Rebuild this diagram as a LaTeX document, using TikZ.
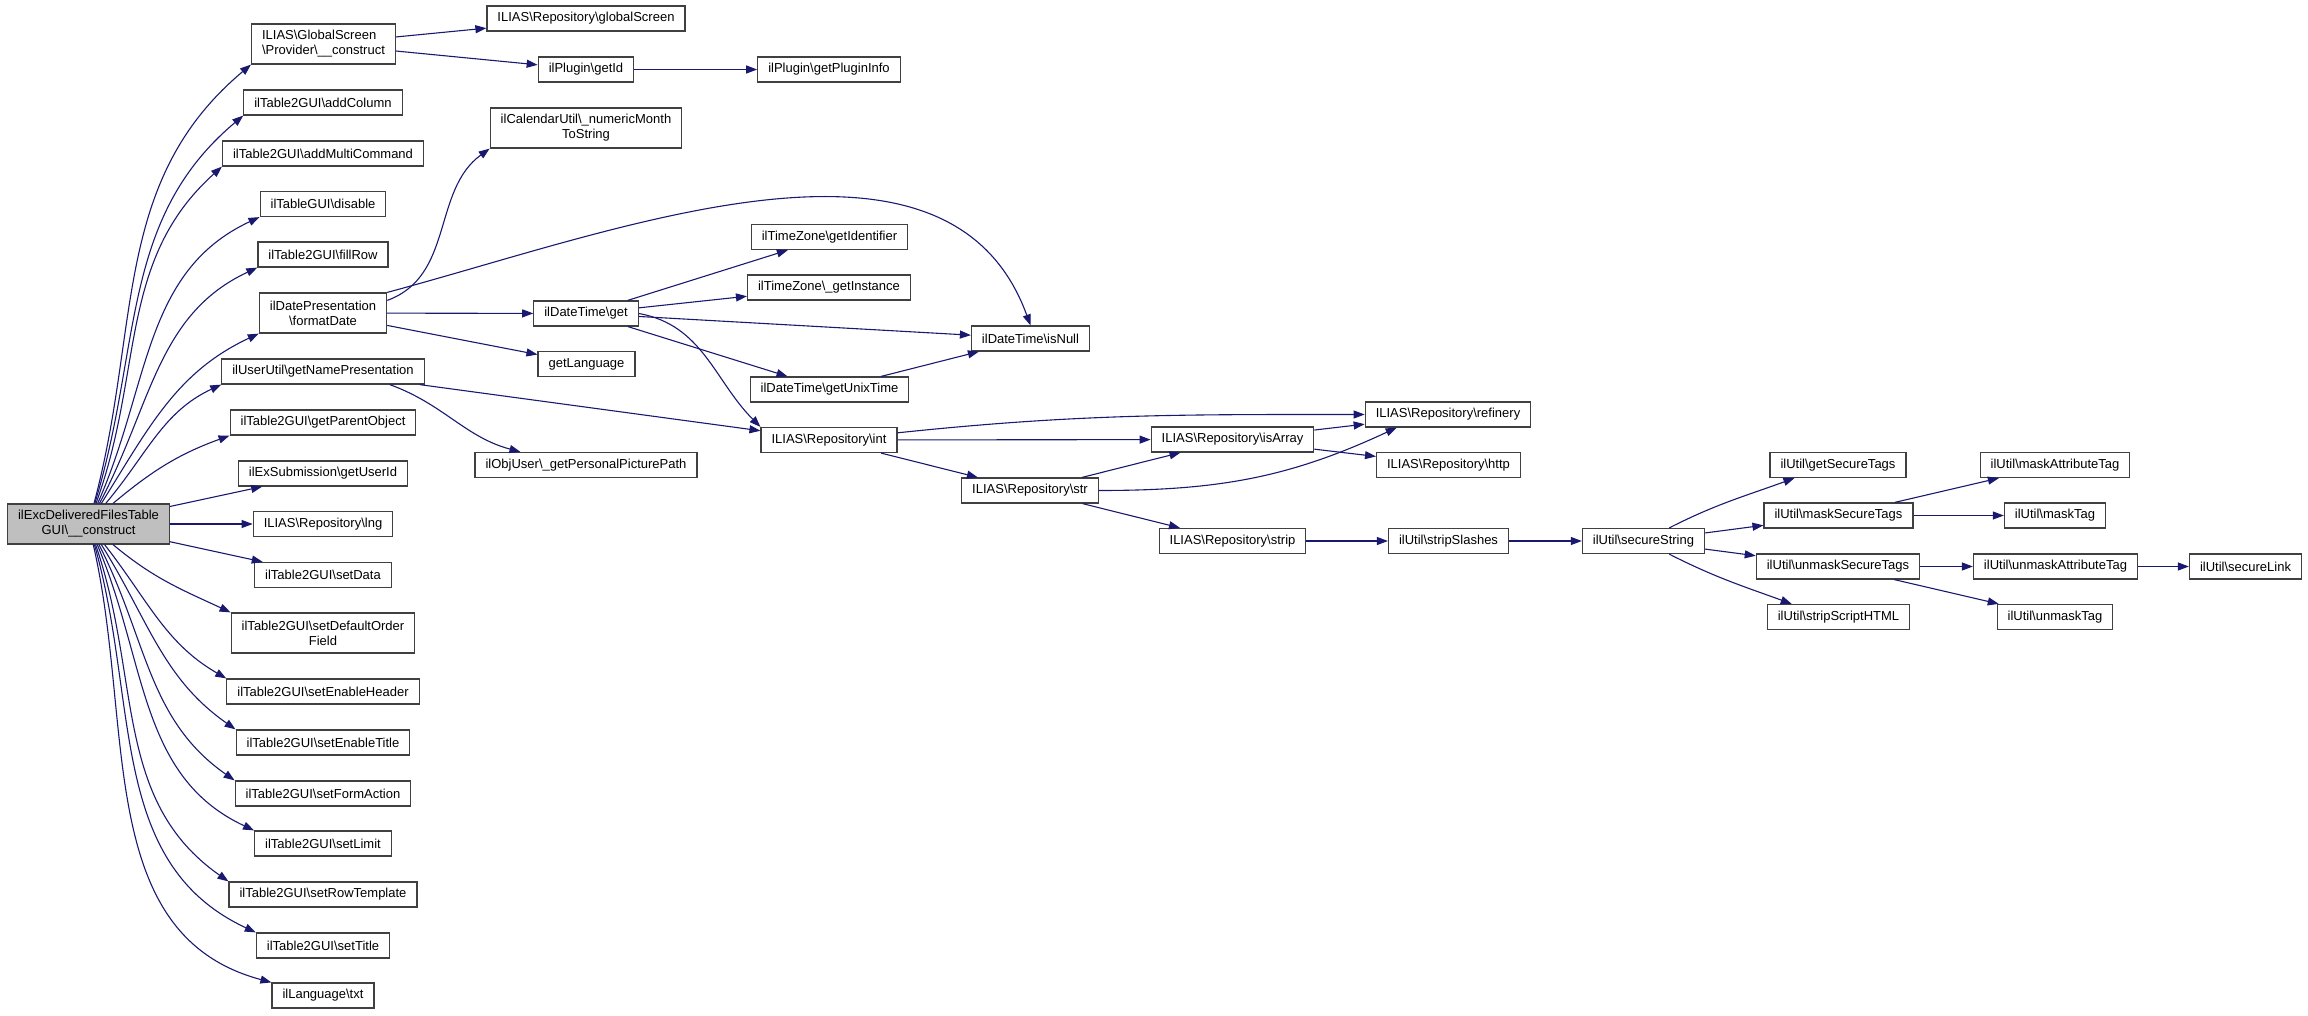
\documentclass[tikz,border=0pt]{standalone}
\usepackage{fontspec}
\setmainfont{Liberation Sans}
\usetikzlibrary{arrows.meta}
\definecolor{edgeblue}{HTML}{191970}
\definecolor{boxline}{HTML}{404040}
\definecolor{mainfill}{HTML}{BFBFBF}
\newcommand{\bsl}{\textbackslash}
\tikzset{
  fn/.style={draw=boxline, line width=1.2pt, fill=white, inner xsep=10.5pt, inner ysep=3pt,
    minimum height=25pt, font=\fontsize{13}{15}\selectfont, align=center},
  fntwo/.style={fn, minimum height=40pt},
  call/.style={draw=edgeblue, line width=1.1pt, -{Triangle[length=11pt,width=8pt]}}
}
\begin{document}
\begin{tikzpicture}[x=1pt,y=1pt]
	\useasboundingbox (0,0) rectangle (2308,-1015);

	% caller
	\node[fntwo, fill=mainfill] (main) at (88.5,-524) {ilExcDeliveredFilesTable\\GUI\bsl\_\_construct};

	% first column
	\node[fntwo, align=left] (prov) at (323.5,-44) {ILIAS\bsl GlobalScreen\\\bsl Provider\bsl\_\_construct};
	\node[fn] (addcol) at (323,-102.5) {ilTable2GUI\bsl addColumn};
	\node[fn] (addmulti) at (323,-153.5) {ilTable2GUI\bsl addMultiCommand};
	\node[fn] (disable) at (323,-204) {ilTableGUI\bsl disable};
	\node[fn] (fillrow) at (323,-254.5) {ilTable2GUI\bsl fillRow};
	\node[fntwo] (fmtdate) at (323,-313) {ilDatePresentation\\\bsl formatDate};
	\node[fn] (namepres) at (323,-371.5) {ilUserUtil\bsl getNamePresentation};
	\node[fn] (parent) at (323,-422.5) {ilTable2GUI\bsl getParentObject};
	\node[fn] (userid) at (323,-473.5) {ilExSubmission\bsl getUserId};
	\node[fn] (lng) at (323,-524) {ILIAS\bsl Repository\bsl lng};
	\node[fn] (setdata) at (323,-575) {ilTable2GUI\bsl setData};
	\node[fntwo] (setorder) at (323,-633) {ilTable2GUI\bsl setDefaultOrder\\Field};
	\node[fn] (sethead) at (323,-691.5) {ilTable2GUI\bsl setEnableHeader};
	\node[fn] (settitleon) at (323,-742.5) {ilTable2GUI\bsl setEnableTitle};
	\node[fn] (setform) at (323,-793.5) {ilTable2GUI\bsl setFormAction};
	\node[fn] (setlimit) at (323,-843.5) {ilTable2GUI\bsl setLimit};
	\node[fn] (setrow) at (323,-894.5) {ilTable2GUI\bsl setRowTemplate};
	\node[fn] (settitle) at (323,-945.5) {ilTable2GUI\bsl setTitle};
	\node[fn] (txt) at (323,-995.5) {ilLanguage\bsl txt};

	% second column
	\node[fn] (glob) at (586,-18.5) {ILIAS\bsl Repository\bsl globalScreen};
	\node[fn] (getid) at (586,-69.5) {ilPlugin\bsl getId};
	\node[fntwo] (month) at (586,-128) {ilCalendarUtil\bsl\_numericMonth\\ToString};
	\node[fn] (dtget) at (586,-313.5) {ilDateTime\bsl get};
	\node[fn] (getlang) at (586.5,-364) {getLanguage};
	\node[fn] (picpath) at (586,-465) {ilObjUser\bsl\_getPersonalPicturePath};

	% third and fourth column
	\node[fn] (plugininfo) at (829,-69.5) {ilPlugin\bsl getPluginInfo};
	\node[fn] (tzident) at (829.5,-237) {ilTimeZone\bsl getIdentifier};
	\node[fn] (tzinst) at (829,-287.5) {ilTimeZone\bsl\_getInstance};
	\node[fn] (unixtime) at (829.5,-389.5) {ilDateTime\bsl getUnixTime};
	\node[fn] (int) at (829,-440) {ILIAS\bsl Repository\bsl int};
	\node[fn] (isnull) at (1030.5,-338.5) {ilDateTime\bsl isNull};
	\node[fn] (str) at (1030,-490.5) {ILIAS\bsl Repository\bsl str};

	% repository and ilUtil
	\node[fn] (isarray) at (1232.5,-439.5) {ILIAS\bsl Repository\bsl isArray};
	\node[fn] (strip) at (1232.5,-541) {ILIAS\bsl Repository\bsl strip};
	\node[fn] (refinery) at (1448,-414.5) {ILIAS\bsl Repository\bsl refinery};
	\node[fn] (http) at (1448.5,-465) {ILIAS\bsl Repository\bsl http};
	\node[fn] (slashes) at (1448.5,-541) {ilUtil\bsl stripSlashes};
	\node[fn] (securestr) at (1643.5,-541) {ilUtil\bsl secureString};
	\node[fn] (gettags) at (1838,-465) {ilUtil\bsl getSecureTags};
	\node[fn] (masktags) at (1838.5,-515.5) {ilUtil\bsl maskSecureTags};
	\node[fn] (unmasktags) at (1838,-566.5) {ilUtil\bsl unmaskSecureTags};
	\node[fn] (striphtml) at (1838.5,-617) {ilUtil\bsl stripScriptHTML};
	\node[fn] (maskattr) at (2055,-465) {ilUtil\bsl maskAttributeTag};
	\node[fn] (masktag) at (2055,-515.5) {ilUtil\bsl maskTag};
	\node[fn] (unmaskattr) at (2055.5,-566.5) {ilUtil\bsl unmaskAttributeTag};
	\node[fn] (unmasktag) at (2055,-617) {ilUtil\bsl unmaskTag};
	\node[fn] (securelink) at (2245.5,-566.5) {ilUtil\bsl secureLink};

	% calls of the constructor
	\draw[call] (main) to[out=75,in=220] (prov.south west);
	\draw[call] (main) to[out=73,in=220] (addcol.south west);
	\draw[call] (main) to[out=70,in=222] (addmulti.south west);
	\draw[call] (main) to[out=66,in=205] (disable.south west);
	\draw[call] (main) to[out=62,in=205] (fillrow.south west);
	\draw[call] (main) to[out=58,in=205] (fmtdate.south west);
	\draw[call] (main) to[out=50,in=205] (namepres.south west);
	\draw[call] (main) to[out=40,in=200] (parent.south west);
	\draw[call] (main) -- (userid);
	\draw[call] (main) -- (lng);
	\draw[call] (main) -- (setdata);
	\draw[call] (main) to[out=-40,in=155] (setorder.north west);
	\draw[call] (main) to[out=-52,in=150] (sethead.north west);
	\draw[call] (main) to[out=-58,in=145] (settitleon.north west);
	\draw[call] (main) to[out=-63,in=145] (setform.north west);
	\draw[call] (main) to[out=-67,in=155] (setlimit.north west);
	\draw[call] (main) to[out=-71,in=145] (setrow.north west);
	\draw[call] (main) to[out=-74,in=155] (settitle.north west);
	\draw[call] (main) to[out=-77,in=165] (txt.north west);

	\draw[call] (prov) -- (glob);
	\draw[call] (prov) -- (getid);
	\draw[call] (getid) -- (plugininfo);

	\draw[call] ([yshift=-8pt]fmtdate.north east) to[out=20,in=216] (month.south west);
	\draw[call] (fmtdate.north east) to[out=15,in=110,looseness=0.95] (isnull.north);
	\draw[call] (fmtdate) -- (dtget);
	\draw[call] (fmtdate) -- (getlang);

	\draw[call] (dtget) -- (tzident);
	\draw[call] (dtget) -- (tzinst);
	\draw[call] (dtget) -- (isnull);
	\draw[call] (dtget) -- (unixtime);
	\draw[call] (dtget.east) to[out=-10,in=135] (int.north west);
	\draw[call] (unixtime) -- (isnull);

	\draw[call] (namepres) -- (int);
	\draw[call] ([xshift=-35pt]namepres.south east) to[out=-20,in=165] ([xshift=46pt]picpath.north west);

	\draw[call] (int) to[out=6,in=180] (refinery);
	\draw[call] (int) -- (isarray);
	\draw[call] (int) -- (str);
	\draw[call] (str) -- (isarray);
	\draw[call] (str.east) to[out=0,in=205] ([xshift=32pt]refinery.south west);
	\draw[call] (str) -- (strip);
	\draw[call] (isarray) -- (refinery);
	\draw[call] (isarray) -- (http);
	\draw[call] (strip) -- (slashes);
	\draw[call] (slashes) -- (securestr);

	\draw[call] (securestr) to[out=27,in=200] ([xshift=25pt]gettags.south west);
	\draw[call] (securestr) -- (masktags);
	\draw[call] (securestr) -- (unmasktags);
	\draw[call] (securestr) to[out=-27,in=160] ([xshift=25pt]striphtml.north west);
	\draw[call] (masktags) -- (maskattr);
	\draw[call] (masktags) -- (masktag);
	\draw[call] (unmasktags) -- (unmaskattr);
	\draw[call] (unmasktags) -- (unmasktag);
	\draw[call] (unmaskattr) -- (securelink);
\end{tikzpicture}
\end{document}
